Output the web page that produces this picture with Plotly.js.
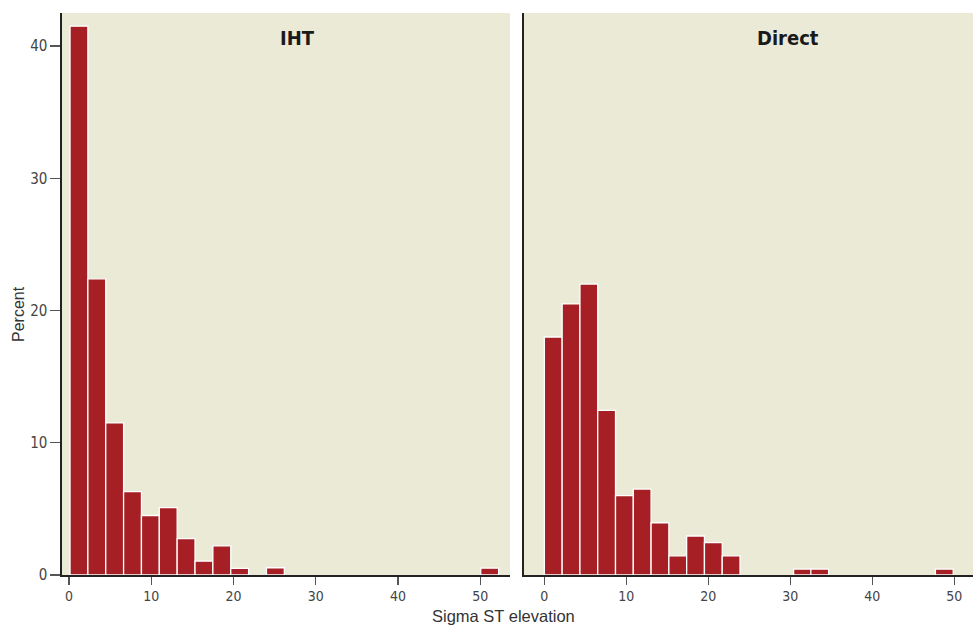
<!DOCTYPE html>
<html>
<head>
<meta charset="utf-8">
<script src="https://cdn.plot.ly/plotly-3.0.1.min.js"></script>
<style>html,body{margin:0;padding:0;background:#fff;}#chart{width:973px;height:627px;}</style>
</head>
<body>
<div id="chart"></div>
<script>
// IHT panel: histogram bin centres and percentages
const ihtBinCenters = [1.22, 3.39, 5.56, 7.73, 9.90, 12.07, 14.24, 16.41, 18.58, 20.75, 25.09, 51.13];
const ihtPercent    = [41.5, 22.4, 11.5, 6.3, 4.5, 5.1, 2.75, 1.05, 2.2, 0.5, 0.55, 0.52];
// Direct panel
const directBinCenters = [1.09, 3.26, 5.43, 7.60, 9.77, 11.94, 14.11, 16.28, 18.45, 20.62, 22.79, 31.50, 33.60, 48.80];
const directPercent    = [18.0, 20.5, 22.0, 12.45, 6.0, 6.5, 3.95, 1.45, 2.95, 2.45, 1.45, 0.45, 0.45, 0.45];
const panelTitles = ["IHT", "Direct"];
const xTicks = [0, 10, 20, 30, 40, 50];
const yTicks = [0, 10, 20, 30, 40];
const xTitle = "Sigma ST elevation";
const yTitle = "Percent";

const barColor = "#A51F24";
const bg = "#EBEAD6";
const condensed = "'Liberation Sans Narrow', 'DejaVu Sans Condensed', 'Roboto Condensed', sans-serif";
const binWidth = 2.17;

const traces = [
  {type: "bar", x: ihtBinCenters, y: ihtPercent, width: binWidth, xaxis: "x", yaxis: "y",
   marker: {color: barColor, line: {color: "#ffffff", width: 1.3}}, hoverinfo: "skip"},
  {type: "bar", x: directBinCenters, y: directPercent, width: binWidth, xaxis: "x2", yaxis: "y2",
   marker: {color: barColor, line: {color: "#ffffff", width: 1.3}}, hoverinfo: "skip"}
];

const W = 973, H = 627, ml = 62, mr = 0, mt = 13, mb = 52;
const pw = W - ml - mr;
function px2paper(px) { return (px - ml) / pw; }

const xCommon = {
  tickvals: xTicks, ticktext: xTicks.map(String), ticks: "outside", ticklen: 8, tickwidth: 1.3, tickcolor: "#555",
  showline: true, linecolor: "#222", linewidth: 1.6, showgrid: false, zeroline: false,
  tickfont: {family: condensed, size: 14, color: "#444"}, fixedrange: true
};
const layout = {
  width: W, height: H,
  margin: {l: ml, r: mr, t: mt, b: mb, pad: 0},
  paper_bgcolor: "#ffffff", plot_bgcolor: bg,
  showlegend: false, bargap: 0,
  xaxis: Object.assign({}, xCommon, {domain: [0, px2paper(510)], range: [-0.84, 53.6], anchor: "y"}),
  xaxis2: Object.assign({}, xCommon, {domain: [px2paper(524), 1], range: [-2.48, 52.3], anchor: "y2"}),
  yaxis: {range: [0, 42.5], tickvals: yTicks, ticktext: yTicks.map(String), ticks: "outside", ticklen: 10,
          tickwidth: 1.3, tickcolor: "#555", showline: true, linecolor: "#222", linewidth: 1.6,
          showgrid: false, zeroline: false, tickfont: {family: condensed, size: 15, color: "#444"},
          anchor: "x", fixedrange: true},
  yaxis2: {range: [0, 42.5], showticklabels: false, ticks: "", showline: true, linecolor: "#222", linewidth: 1.6,
           showgrid: false, zeroline: false, anchor: "x2", fixedrange: true},
  annotations: [
    {text: "<b>" + panelTitles[0] + "</b>", xref: "paper", yref: "paper", x: px2paper(297), y: (H - mb - 38) / (H - mt - mb),
     showarrow: false, xanchor: "center", yanchor: "middle", font: {family: condensed, size: 20, color: "#1a1a1a"}},
    {text: "<b>" + panelTitles[1] + "</b>", xref: "paper", yref: "paper", x: px2paper(788), y: (H - mb - 38) / (H - mt - mb),
     showarrow: false, xanchor: "center", yanchor: "middle", font: {family: condensed, size: 20, color: "#1a1a1a"}},
    {text: xTitle, xref: "paper", yref: "paper", x: px2paper(503), y: (H - mb - 616) / (H - mt - mb),
     showarrow: false, xanchor: "center", yanchor: "middle", font: {family: "'Liberation Sans', Arial, sans-serif", size: 16.5, color: "#333"}},
    {text: yTitle, xref: "paper", yref: "paper", x: px2paper(18), y: (H - mb - 314) / (H - mt - mb), textangle: -90,
     showarrow: false, xanchor: "center", yanchor: "middle", font: {family: "'Liberation Sans', Arial, sans-serif", size: 16, color: "#333"}}
  ],
  hovermode: false
};
Plotly.newPlot("chart", traces, layout, {staticPlot: true, displayModeBar: false});
</script>
</body>
</html>
